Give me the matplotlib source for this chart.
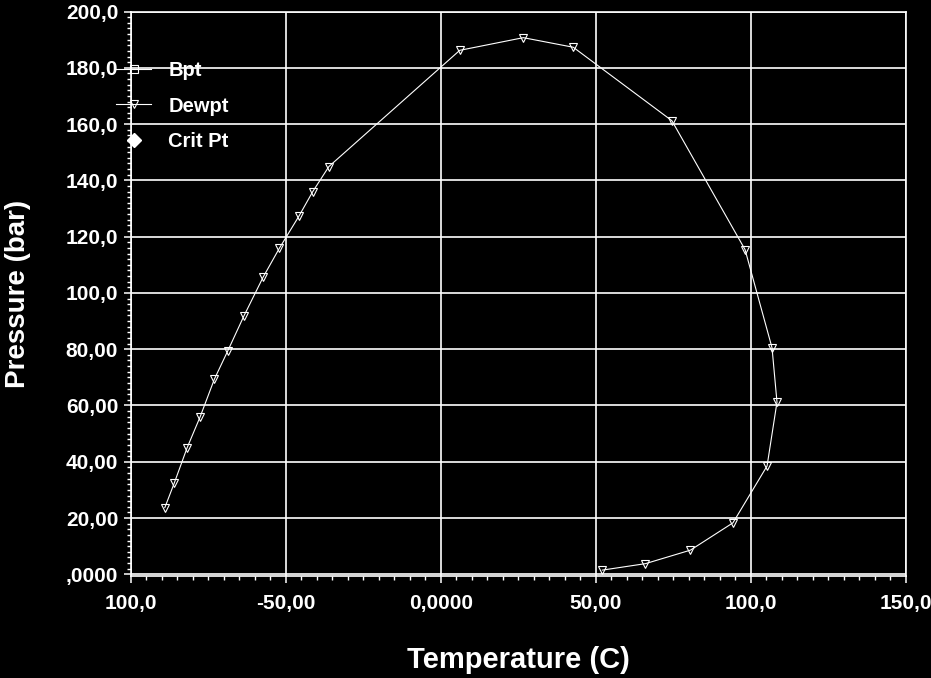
import matplotlib
matplotlib.use("Agg")
import matplotlib.pyplot as plt
from matplotlib.ticker import MultipleLocator, FixedLocator, FixedFormatter

# dew point curve
temp_dew = [-89.0, -86.0, -81.8, -77.6, -73.0, -68.7, -63.5, -57.3, -52.1, -45.8,
            -41.3, -36.1, 6.1, 26.6, 42.7, 74.5, 98.1, 106.8, 108.4, 105.2,
            94.2, 80.5, 66.0, 52.1]
pres_dew = [23.7, 32.3, 45.0, 56.0, 69.4, 79.4, 91.8, 105.6, 115.8, 127.2,
            136.0, 144.9, 186.2, 190.7, 187.3, 161.2, 115.4, 80.5, 61.2, 38.5,
            18.3, 8.6, 3.8, 1.5]

# bubble point and critical point are empty in the picture (legend only)
temp_bpt, pres_bpt = [], []
temp_crit, pres_crit = [], []

x_ticks = [-100, -50, 0, 50, 100, 150]
x_labels = ["100,0", "-50,00", "0,0000", "50,00", "100,0", "150,0"]
y_ticks = [0, 20, 40, 60, 80, 100, 120, 140, 160, 180, 200]
y_labels = [",0000", "20,00", "40,00", "60,00", "80,00", "100,0", "120,0",
            "140,0", "160,0", "180,0", "200,0"]

plt.rcParams["font.family"] = ["Liberation Sans", "DejaVu Sans"]
plt.rcParams["font.weight"] = "bold"

W, H = 931, 678
fig = plt.figure(figsize=(W / 100, H / 100), dpi=100, facecolor="black")
ax = fig.add_axes([130.7 / W, 1 - 576.3 / H, 775.3 / W, 564.8 / H], facecolor="black")

ax.plot(temp_bpt, pres_bpt, color="white", lw=0.8, marker="s", ms=6,
        mfc="none", mec="white", mew=0.8, label="Bpt")
ax.plot(temp_dew, pres_dew, color="white", lw=0.8, marker="v", ms=6,
        mfc="none", mec="white", mew=0.8, label="Dewpt")
ax.plot(temp_crit, pres_crit, color="white", lw=0, marker="D", ms=7,
        mfc="white", mec="white", label="Crit Pt")

ax.set_xlim(-100, 150)
ax.set_ylim(-0.7, 200)

ax.xaxis.set_major_locator(FixedLocator(x_ticks))
ax.xaxis.set_major_formatter(FixedFormatter(x_labels))
ax.yaxis.set_major_locator(FixedLocator(y_ticks))
ax.yaxis.set_major_formatter(FixedFormatter(y_labels))
ax.xaxis.set_minor_locator(MultipleLocator(5))
ax.yaxis.set_minor_locator(MultipleLocator(2))

ax.grid(True, which="major", color="white", lw=1.2)
ax.set_axisbelow(True)

for s in ax.spines.values():
    s.set_color("white")
    s.set_linewidth(1.2)

ax.tick_params(which="major", direction="out", length=5, width=1.1,
               colors="white", labelsize=15)
ax.tick_params(axis="x", which="major", pad=8)
ax.tick_params(axis="y", which="major", pad=4)
ax.tick_params(which="minor", direction="out", length=3, width=1, colors="white")

ax.set_xlabel("Temperature (C)", color="white", fontsize=21, fontweight="bold", va="center")
ax.xaxis.set_label_coords(0.5, -0.148)
ax.set_ylabel("Pressure (bar)", color="white", fontsize=20, fontweight="bold", va="center")
ax.yaxis.set_label_coords(-0.1454, 0.5)

leg = ax.legend(loc="upper left", bbox_to_anchor=(116 / W, 1 - 61 / H),
                bbox_transform=fig.transFigure, frameon=False, fontsize=14.5,
                handlelength=1.75, handletextpad=0.85, labelspacing=0.82,
                borderpad=0, borderaxespad=0)
for t in leg.get_texts():
    t.set_color("white")

fig.savefig("out.png", dpi=100, facecolor="black")
